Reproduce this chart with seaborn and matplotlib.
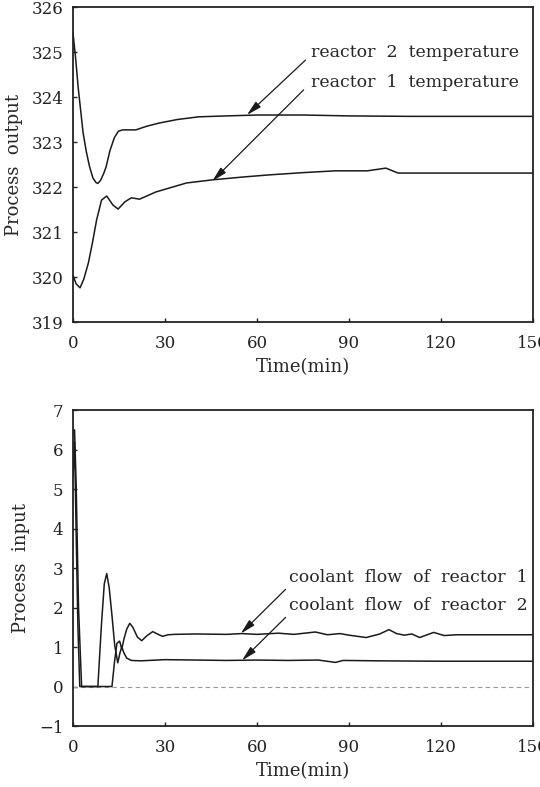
import matplotlib
matplotlib.use('Agg')
import matplotlib.pyplot as plt
import seaborn as sns
import pandas as pd

# top panel: reactor temperatures
t_temp1 = [0, 1, 2.3, 3.5, 5, 6.3, 7.7, 9.3, 11, 13, 14.7, 16.9, 19, 21.7, 27, 37, 45.5,
           55, 64, 75, 85.6, 96, 102, 106, 110, 130, 150]
temp1 = [320.04, 319.85, 319.76, 319.95, 320.31, 320.75, 321.27, 321.71, 321.8, 321.6, 321.51,
         321.67, 321.76, 321.73, 321.89, 322.09, 322.16, 322.22, 322.27, 322.32, 322.36, 322.36,
         322.42, 322.31, 322.31, 322.31, 322.31]
t_temp2 = [0, 0.8, 1.7, 2.5, 3.3, 4.3, 5.4, 6.5, 7.5, 8.1, 9, 10, 10.8, 12, 13.5, 14.8, 16.2,
           18, 20.5, 24, 28, 34, 41, 50, 60, 75, 90, 110, 130, 150]
temp2 = [325.42, 324.9, 324.2, 323.7, 323.2, 322.8, 322.45, 322.2, 322.1, 322.08, 322.15, 322.3,
         322.45, 322.8, 323.1, 323.24, 323.27, 323.27, 323.27, 323.35, 323.42, 323.5, 323.56,
         323.58, 323.6, 323.6, 323.58, 323.57, 323.57, 323.57]

# bottom panel: coolant flows
t_flow1 = [0, 0.5, 1.0, 1.8, 2.8, 12.7, 13.5, 14.3, 15.2, 15.9, 16.6, 17.5, 18.5, 19.5, 21, 22.4,
           24, 26, 27.5, 29.2, 31, 33, 40, 50, 55, 60, 67, 72, 79, 83, 87, 90, 95.6, 100, 103,
           105.5, 108, 110.5, 113, 117.6, 121, 125, 130, 140, 150]
flow1 = [6.4, 6.5, 5.2, 2.0, 0, 0, 0.6, 1.09, 1.15, 0.95, 1.2, 1.45, 1.6, 1.5, 1.25, 1.16,
         1.28, 1.39, 1.33, 1.27, 1.31, 1.32, 1.33, 1.32, 1.34, 1.32, 1.35, 1.32, 1.38, 1.31, 1.34,
         1.3, 1.24, 1.33, 1.44, 1.34, 1.3, 1.33, 1.24, 1.37, 1.29, 1.31, 1.31, 1.31, 1.31]
t_flow2 = [0, 0.5, 1.0, 1.6, 2.2, 8.1, 9.3, 10.2, 11, 11.8, 12.7, 13.6, 14.6, 15.3, 15.9, 16.6,
           17.5, 19, 22, 30, 40, 50, 60, 70, 80, 85.6, 88, 100, 120, 150]
flow2 = [5.3, 6.2, 4.0, 1.5, 0, 0, 1.6, 2.6, 2.86, 2.5, 1.8, 1.04, 0.6, 0.85, 1.0, 0.85,
         0.72, 0.66, 0.65, 0.68, 0.67, 0.66, 0.67, 0.66, 0.67, 0.61, 0.66, 0.65, 0.64, 0.64]

x_ticks = [0, 30, 60, 90, 120, 150]
temp_ticks = [319, 320, 321, 322, 323, 324, 325, 326]
flow_ticks = [-1, 0, 1, 2, 3, 4, 5, 6, 7]

sns.set_style('ticks')
plt.rcParams['font.family'] = ['DejaVu Serif']
plt.rcParams['axes.unicode_minus'] = True

ink = '#1a1a1a'
fig = plt.figure(figsize=(5.4, 7.87), dpi=100)
ax1 = fig.add_axes([0.1352, 0.5908, 0.852, 0.4003])
ax2 = fig.add_axes([0.1352, 0.0775, 0.852, 0.4015])

df_t1 = pd.DataFrame({'t': t_temp1, 'v': temp1})
df_t2 = pd.DataFrame({'t': t_temp2, 'v': temp2})
sns.lineplot(data=df_t1, x='t', y='v', ax=ax1, color=ink, lw=1.1, estimator=None, sort=False)
sns.lineplot(data=df_t2, x='t', y='v', ax=ax1, color=ink, lw=1.1, estimator=None, sort=False)

df_f1 = pd.DataFrame({'t': t_flow1, 'v': flow1})
df_f2 = pd.DataFrame({'t': t_flow2, 'v': flow2})
ax2.axhline(0, color='#999999', lw=0.8, ls=(0, (4, 3)), zorder=1)
sns.lineplot(data=df_f1, x='t', y='v', ax=ax2, color=ink, lw=1.1, estimator=None, sort=False)
sns.lineplot(data=df_f2, x='t', y='v', ax=ax2, color=ink, lw=1.1, estimator=None, sort=False)

ax1.set_xlim(0, 150)
ax1.set_ylim(319, 326)
ax1.set_yticks(temp_ticks)
ax2.set_xlim(0, 150)
ax2.set_ylim(-1, 7)
ax2.set_yticks(flow_ticks)

for ax, ylab in [(ax1, 'Process  output'), (ax2, 'Process  input')]:
    ax.set_xticks(x_ticks)
    ax.set_xlabel('Time(min)', fontsize=13, labelpad=5)
    ax.set_ylabel(ylab, fontsize=13, labelpad=6)
    ax.tick_params(direction='in', length=3, width=1, labelsize=12, colors='#222222')
    ax.tick_params(axis='x', pad=9)
    ax.tick_params(axis='y', pad=7)
    for s in ax.spines.values():
        s.set_visible(True)
        s.set_linewidth(1.3)
        s.set_color('#222222')

arrow = dict(arrowstyle='-|>,head_length=0.9,head_width=0.22', color=ink, lw=0.9,
             shrinkA=0, shrinkB=0)
ax1.annotate('', xy=(56.7, 323.6), xytext=(75.8, 324.82), arrowprops=arrow)
ax1.annotate('', xy=(45.4, 322.13), xytext=(75.2, 324.16), arrowprops=arrow)
ax1.text(77.7, 325.0, 'reactor  2  temperature', fontsize=12.5, va='center', ha='left')
ax1.text(77.7, 324.33, 'reactor  1  temperature', fontsize=12.5, va='center', ha='left')

ax2.annotate('', xy=(54.7, 1.34), xytext=(69.3, 2.46), arrowprops=arrow)
ax2.annotate('', xy=(55.1, 0.66), xytext=(69.3, 1.75), arrowprops=arrow)
ax2.text(70.3, 2.76, 'coolant  flow  of  reactor  1', fontsize=12.5, va='center', ha='left')
ax2.text(70.3, 2.05, 'coolant  flow  of  reactor  2', fontsize=12.5, va='center', ha='left')

fig.savefig('out.png', dpi=100)
plt.close('all')
